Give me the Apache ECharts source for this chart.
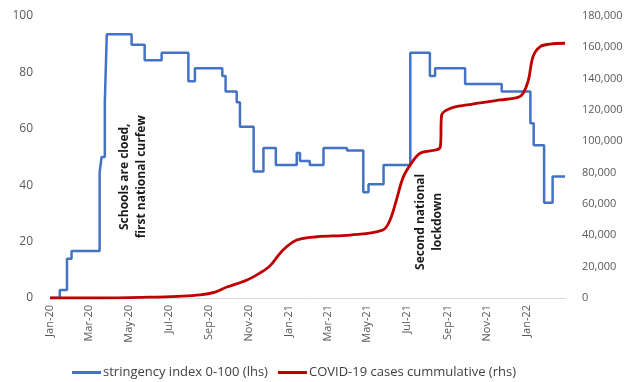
<!DOCTYPE html>
<html>
<head>
<meta charset="utf-8">
<script src="https://cdn.jsdelivr.net/npm/echarts@6/dist/echarts.min.js"></script>
<style>
  html, body { margin: 0; padding: 0; background: #ffffff; }
  #chart { width: 635px; height: 382px; }
</style>
</head>
<body>
<div id="chart"></div>
<script>
// Stringency index (0-100): date each level takes effect, and the level.
const stringencyDates = [
  '2020-01-01', '2020-01-16', '2020-01-27', '2020-02-03', '2020-03-17', '2020-03-20',
  '2020-03-25', '2020-03-28', '2020-05-05', '2020-05-25', '2020-06-20', '2020-07-31',
  '2020-08-10', '2020-09-21', '2020-09-26', '2020-10-13', '2020-10-18', '2020-11-08',
  '2020-11-23', '2020-12-12', '2021-01-13', '2021-01-18', '2021-02-02', '2021-02-23',
  '2021-03-31', '2021-04-25', '2021-05-03', '2021-05-26', '2021-07-06', '2021-08-05',
  '2021-08-13', '2021-09-28', '2021-11-23', '2022-01-06', '2022-01-11', '2022-01-27',
  '2022-02-09', '2022-02-28'
];
const stringencyValues = [
  0, 2.8, 13.9, 16.7, 44.4, 50.0,
  69.4, 93.5, 89.8, 84.3, 87.0, 76.9,
  81.5, 78.7, 73.2, 69.4, 60.7, 44.9,
  53.2, 47.2, 51.4, 48.6, 47.2, 53.2,
  52.3, 37.5, 40.3, 47.2, 87.0, 78.7,
  81.5, 75.9, 73.2, 62.0, 54.2, 33.8,
  43.1, 43.1
];

// Cumulative COVID-19 cases (right-hand scale).
const caseDates = [
  '2020-01-01', '2020-03-20', '2020-06-01', '2020-07-15', '2020-08-18', '2020-09-10',
  '2020-09-28', '2020-10-29', '2020-11-18', '2020-12-03', '2020-12-23',
  '2021-01-13', '2021-02-13', '2021-04-05', '2021-05-25', '2021-06-05', '2021-06-15',
  '2021-06-25', '2021-07-06', '2021-07-21', '2021-08-21', '2021-08-23', '2021-09-05',
  '2021-10-01', '2021-11-21', '2021-12-18', '2021-12-26', '2022-01-03', '2022-01-10',
  '2022-01-21', '2022-02-05', '2022-02-28'
];
const caseValues = [
  0, 0, 500, 1100, 2000, 3800,
  7000, 11500, 16000, 20500, 30600,
  37000, 39100, 40200, 43400, 49800, 63000,
  77000, 85000, 92400, 96600, 116800, 121000,
  123200, 126400, 128100, 130700, 139200, 154000,
  160400, 162100, 162600
];

// Labelled ticks on the date axis.
const tickDates = [
  '2020-01-01', '2020-03-01', '2020-05-01', '2020-07-01', '2020-09-01', '2020-11-01',
  '2021-01-01', '2021-03-01', '2021-05-01', '2021-07-01', '2021-09-01', '2021-11-01',
  '2022-01-01'
];
const tickLabels = [
  'Jan-20', 'Mar-20', 'May-20', 'Jul-20', 'Sep-20', 'Nov-20',
  'Jan-21', 'Mar-21', 'May-21', 'Jul-21', 'Sep-21', 'Nov-21',
  'Jan-22'
];

const seriesNames = ['stringency index 0-100 (lhs)', 'COVID-19 cases cummulative (rhs)'];

const notes = [
  { date: '2020-05-07', value: 43, text: 'Schools are cloed,\nfirst national curfew' },
  { date: '2021-08-04', value: 27, text: 'Second national\nlockdown' }
];

// One category per day across the plotted period.
const firstDay = '2020-01-01';
const lastDay = '2022-02-28';
const days = [];
for (let t = Date.parse(firstDay + 'T00:00:00Z'); t <= Date.parse(lastDay + 'T00:00:00Z'); t += 86400000) {
  days.push(new Date(t).toISOString().slice(0, 10));
}

const labelFont = "'Open Sans', 'Liberation Sans', sans-serif";

const chart = echarts.init(document.getElementById('chart'), null, { renderer: 'canvas' });

chart.setOption({
  animation: false,
  backgroundColor: '#ffffff',
  grid: { left: 50, right: 70, top: 16, bottom: 84 },
  legend: {
    left: 72,
    top: 366,
    padding: 0,
    itemWidth: 29,
    itemHeight: 3,
    itemGap: 10,
    icon: 'rect',
    textStyle: { fontFamily: labelFont, fontSize: 13, color: '#404040', padding: [0, 0, 0, -3] },
    data: seriesNames
  },
  xAxis: {
    type: 'category',
    data: days,
    boundaryGap: false,
    axisLine: { show: true, lineStyle: { color: '#d9d9d9', width: 1 } },
    axisTick: { show: false },
    splitLine: { show: false },
    axisLabel: {
      interval: (i, v) => tickDates.indexOf(v) >= 0,
      formatter: v => tickLabels[tickDates.indexOf(v)],
      rotate: 90,
      margin: 7,
      fontFamily: labelFont,
      fontSize: 11,
      color: '#595959'
    }
  },
  yAxis: [
    {
      type: 'value',
      min: 0,
      max: 100,
      interval: 20,
      axisLine: { show: false },
      axisTick: { show: false },
      splitLine: { show: false },
      axisLabel: { margin: 17, fontFamily: labelFont, fontSize: 12, color: '#595959' }
    },
    {
      type: 'value',
      min: 0,
      max: 180000,
      interval: 20000,
      position: 'right',
      axisLine: { show: false },
      axisTick: { show: false },
      splitLine: { show: false },
      axisLabel: {
        margin: 17,
        fontFamily: labelFont,
        fontSize: 11,
        color: '#595959',
        formatter: v => v.toLocaleString('en-US')
      }
    }
  ],
  series: [
    {
      name: seriesNames[0],
      type: 'line',
      step: 'end',
      yAxisIndex: 0,
      showSymbol: false,
      color: '#4472c4',
      lineStyle: { color: '#4472c4', width: 2.5 },
      data: stringencyDates.map((d, i) => [d, stringencyValues[i]])
    },
    {
      name: seriesNames[1],
      type: 'line',
      yAxisIndex: 1,
      smooth: 0.35,
      showSymbol: false,
      color: '#c00000',
      lineStyle: { color: '#c00000', width: 2.8 },
      data: caseDates.map((d, i) => [d, caseValues[i]])
    }
  ]
});

// Rotated annotations anchored to dates on the axis.
chart.setOption({
  graphic: notes.map(n => {
    const p = chart.convertToPixel({ xAxisIndex: 0, yAxisIndex: 0 }, [n.date, n.value]);
    return {
      type: 'text',
      x: p[0],
      y: p[1],
      rotation: Math.PI / 2,
      style: {
        text: n.text,
        align: 'center',
        verticalAlign: 'middle',
        lineHeight: 17,
        fill: '#1a1a1a',
        font: "bold 12px 'Liberation Sans Narrow', 'Open Sans', sans-serif"
      }
    };
  })
});
</script>
</body>
</html>
